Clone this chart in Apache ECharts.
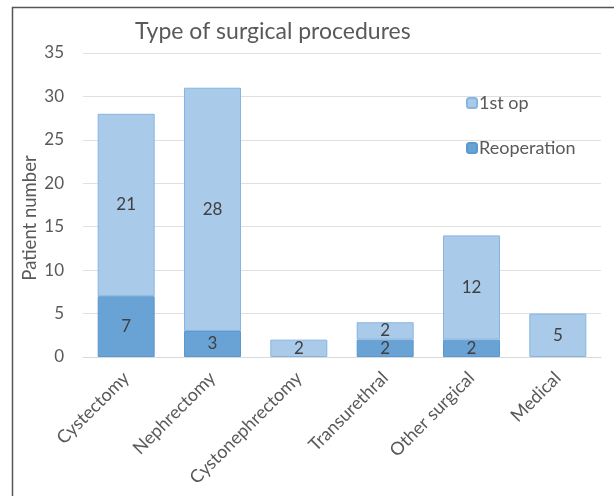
<!DOCTYPE html>
<html><head><meta charset="utf-8">
<script src="https://cdn.jsdelivr.net/npm/echarts@6/dist/echarts.min.js"></script>
<style>html,body{margin:0;padding:0;background:#fff}#c{width:614px;height:496px}</style>
</head><body><div id="c"></div>
<script>
var categories = ['Cystectomy','Nephrectomy','Cystonephrectomy','Transurethral','Other surgical','Medical'];
var firstOp = [21, 28, 2, 2, 12, 5];
var reoperation = [7, 3, 0, 2, 2, 0];
var yTicks = [0, 5, 10, 15, 20, 25, 30, 35];

var FONT = 'Lato';
var chart = echarts.init(document.getElementById('c'));
chart.setOption({
  animation: false,
  textStyle: {fontFamily: FONT},
  graphic: [{type: 'rect', shape: {x: 12.5, y: 7.5, width: 620, height: 500}, style: {fill: 'none', stroke: '#555', lineWidth: 1.5}, silent: true}],
  title: {text: 'Type of surgical procedures', left: 130, top: 15, textStyle: {fontFamily: FONT, fontSize: 23, fontWeight: 'normal', color: '#595959'}},
  legend: {
    orient: 'vertical', left: 466, top: 94, padding: 0, itemGap: 27, itemWidth: 10, itemHeight: 10,
    data: ['1st op', 'Reoperation'],
    textStyle: {fontFamily: FONT, fontSize: 18, color: '#595959', padding: [0,0,0,-3]}
  },
  grid: {left: 83, right: 13, top: 53, bottom: 139, containLabel: false},
  xAxis: {
    type: 'category', data: categories,
    axisLine: {lineStyle: {color: '#d9d9d9'}}, axisTick: {show: false},
    axisLabel: {rotate: 45, fontFamily: FONT, fontSize: 18, color: '#595959', margin: 18, interval: 0}
  },
  yAxis: {
    type: 'value', min: yTicks[0], max: yTicks[yTicks.length-1], interval: 5,
    name: 'Patient number', nameLocation: 'middle', nameGap: 43, nameRotate: 90, nameMoveOverlap: false,
    nameTextStyle: {fontFamily: FONT, fontSize: 18.5, color: '#595959', padding: [0,0,0,-26]},
    axisLine: {show: false}, axisTick: {show: false},
    axisLabel: {fontFamily: FONT, fontSize: 17, color: '#595959', margin: 19},
    splitLine: {lineStyle: {color: '#e0e0e0'}}
  },
  series: [
    {name: 'Reoperation', type: 'bar', stack: 's', data: reoperation.map(function(v){return v === 0 ? null : v;}), barWidth: '66%',
     itemStyle: {color: '#69a3d5', borderColor: '#5a98cf', borderWidth: 1},
     label: {show: true, position: 'inside', fontFamily: FONT, fontSize: 17, color: '#404040'}},
    {name: '1st op', type: 'bar', stack: 's', data: firstOp, barWidth: '66%',
     itemStyle: {color: '#aacaea', borderColor: '#86b5e0', borderWidth: 1},
     label: {show: true, position: 'inside', fontFamily: FONT, fontSize: 17, color: '#404040'}}
  ]
});
</script></body></html>
